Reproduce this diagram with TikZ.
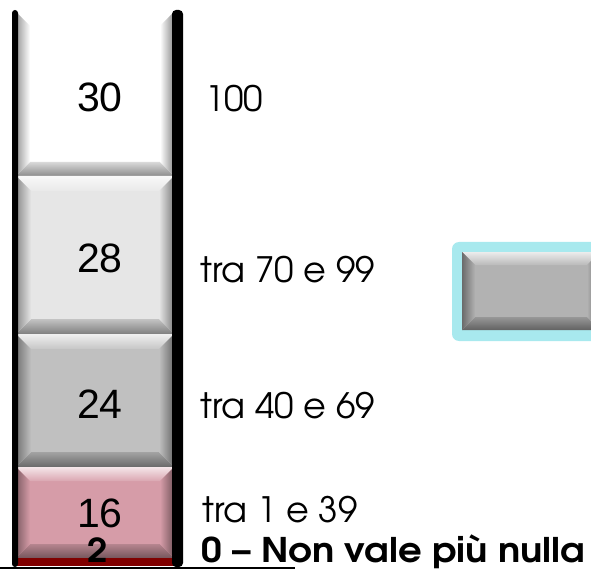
\documentclass[tikz,border=0pt]{standalone}
\usepackage{fontspec}
\setmainfont{Liberation Sans}
\newfontfamily\adv{texgyreadventor}[Extension=.otf, UprightFont=*-regular, BoldFont=*-bold]
\definecolor{blkA}{HTML}{FFFFFF}
\definecolor{blkB}{HTML}{E6E6E6}
\definecolor{blkC}{HTML}{C0C0C0}
\definecolor{blkD}{HTML}{D69CA8}
\definecolor{strip}{HTML}{800000}
\definecolor{btn}{HTML}{B2B2B2}
\definecolor{glow}{HTML}{A8E9EE}
\definecolor{baseline}{HTML}{A8A8A8}
\newcommand\bevbox[6]{%
  \fill[#5] (#1,#2) rectangle (#3,#4);
  \shade[top color=#5!25!white, bottom color=#5!90!white] (#1,#2) -- (#3,#2) -- ({#3-#6},{#2+#6}) -- ({#1+#6},{#2+#6}) -- cycle;
  \shade[top color=#5!85!black, bottom color=#5!55!black] (#1,#4) -- (#3,#4) -- ({#3-#6},{#4-#6}) -- ({#1+#6},{#4-#6}) -- cycle;
  \shade[left color=#5!60!black, right color=#5] (#1,#2) -- ({#1+#6},{#2+#6}) -- ({#1+#6},{#4-#6}) -- (#1,#4) -- cycle;
  \shade[left color=#5, right color=#5!55!black] (#3,#2) -- ({#3-#6},{#2+#6}) -- ({#3-#6},{#4-#6}) -- (#3,#4) -- cycle;
}
\newcommand\widebold[1]{\scalebox{1.09}[1]{#1}}
\tikzset{
  num/.style={inner sep=0pt, anchor=base, font=\fontsize{41}{45}\selectfont},
  lbl/.style={inner sep=0pt, anchor=base west, font=\adv\fontsize{35}{40}\selectfont},
  blbl/.style={inner sep=0pt, anchor=base west, font=\adv\bfseries\fontsize{34}{38}\selectfont},
}
\begin{document}
\begin{tikzpicture}[x=1pt,y=-1pt]
\useasboundingbox (0,0) rectangle (591,569);
% column blocks
\bevbox{16}{12}{174}{176}{blkA}{14}
\bevbox{16}{176}{174}{334}{blkB}{15}
\bevbox{16}{334}{174}{467}{blkC}{15}
\bevbox{16}{467}{174}{558}{blkD}{14}
\fill[strip] (16,558) rectangle (174,566);
% black side bars
\fill[black, rounded corners=3pt] (12,10) rectangle (18,567);
\fill[black, rounded corners=4pt] (172,10) rectangle (183,567);
% bottom grey line
\fill[baseline] (0,566.5) rectangle (295,569);
% right button
\fill[glow, rounded corners=7pt] (452,242) rectangle (600,341);
\bevbox{462}{252}{600}{330}{btn}{13}
% numbers
\node[num] (n30) at (100,112) {30};
\node[num] (n28) at (100,272) {28};
\node[num] (n24) at (100,418) {24};
\node[num] (n16) at (100,527) {16};
\node[blbl, anchor=base, font=\adv\bfseries\fontsize{33}{36}\selectfont] (n2) at (98,562) {\widebold{2}};
% labels
\node[lbl] (l100) at (205,112) {100};
\node[lbl] (l70) at (200,282) {tra 70 e 99};
\node[lbl] (l40) at (200,418) {tra 40 e 69};
\node[lbl] (l1) at (202,522) {tra 1 e 39};
\node[blbl] (l0) at (201,562) {\widebold{0 – Non vale più nulla}};
\end{tikzpicture}
\end{document}
